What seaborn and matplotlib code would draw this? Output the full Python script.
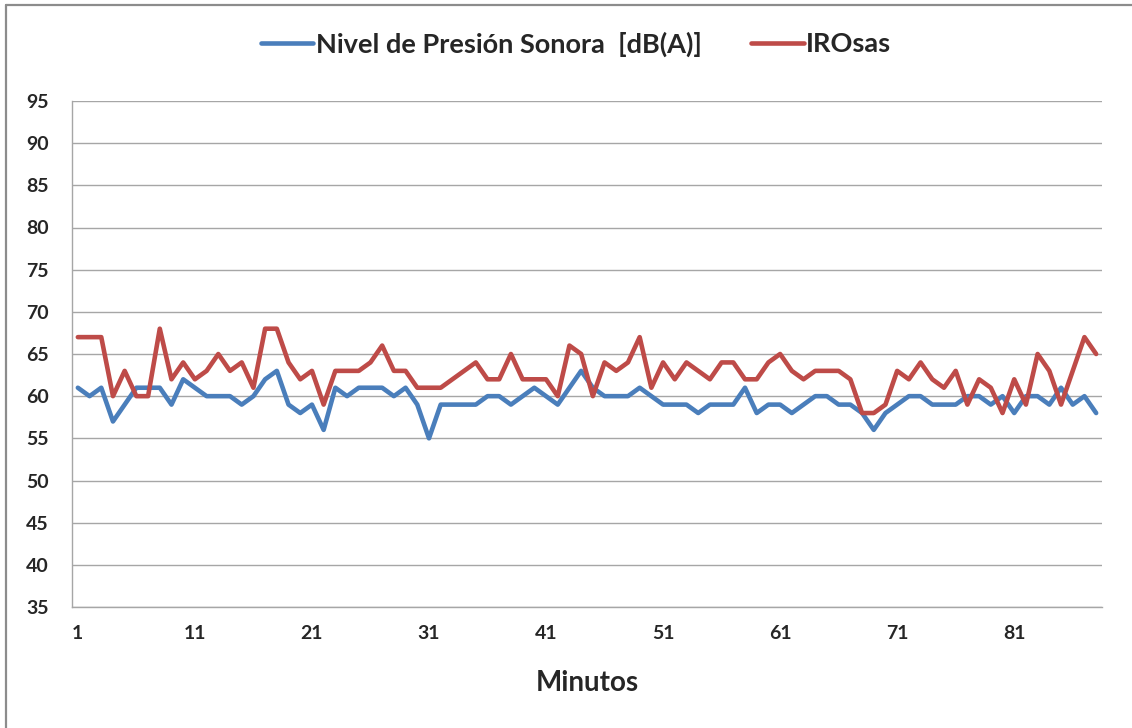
import numpy as np
import pandas as pd
import matplotlib
matplotlib.use("Agg")
import matplotlib.pyplot as plt
from matplotlib.lines import Line2D
import seaborn as sns

# data (one value per minute, 1..88)
nivel = [61, 60, 61, 57, 59, 61, 61, 61, 59, 62,
         61, 60, 60, 60, 59, 60, 62, 63, 59, 58,
         59, 56, 61, 60, 61, 61, 61, 60, 61, 59,
         55, 59, 59, 59, 59, 60, 60, 59, 60, 61,
         60, 59, 61, 63, 61, 60, 60, 60, 61, 60,
         59, 59, 59, 58, 59, 59, 59, 61, 58, 59,
         59, 58, 59, 60, 60, 59, 59, 58, 56, 58,
         59, 60, 60, 59, 59, 59, 60, 60, 59, 60,
         58, 60, 60, 59, 61, 59, 60, 58]
irosas = [67, 67, 67, 60, 63, 60, 60, 68, 62, 64,
          62, 63, 65, 63, 64, 61, 68, 68, 64, 62,
          63, 59, 63, 63, 63, 64, 66, 63, 63, 61,
          61, 61, 62, 63, 64, 62, 62, 65, 62, 62,
          62, 60, 66, 65, 60, 64, 63, 64, 67, 61,
          64, 62, 64, 63, 62, 64, 64, 62, 62, 64,
          65, 63, 62, 63, 63, 63, 62, 58, 58, 59,
          63, 62, 64, 62, 61, 63, 59, 62, 61, 58,
          62, 59, 65, 63, 59, 63, 67, 65]
minutos = list(range(1, len(nivel) + 1))
series_names = ["Nivel de Presión Sonora  [dB(A)]", "IROsas"]
series_colors = ["#4a7ebb", "#be4b48"]
y_ticks = list(range(35, 100, 5))

df = pd.DataFrame({
    "pos": np.arange(len(minutos)).tolist() * 2,
    "valor": nivel + irosas,
    "serie": [series_names[0]] * len(nivel) + [series_names[1]] * len(irosas),
})

sns.set_style("white")
plt.rcParams['font.family'] = ['Lato', 'DejaVu Sans']
plt.rcParams['font.weight'] = 'bold'

W, H = 1132, 728
fig = plt.figure(figsize=(W / 100, H / 100), dpi=100)
ax = fig.add_axes([72 / W, 1 - 607 / H, (1102 - 72) / W, (607 - 101) / H])

sns.lineplot(data=df, x="pos", y="valor", hue="serie", palette=series_colors,
             linewidth=3.3, ax=ax, legend=False, zorder=3)

grid_c = "#a6a6a6"
ax.set_ylim(35, 95)
ax.set_yticks(y_ticks)
ax.set_yticklabels([str(v) for v in y_ticks], fontsize=14, fontweight='bold')
ax.yaxis.grid(True, color=grid_c, linewidth=1)
ax.xaxis.grid(False)

n = len(minutos)
ax.set_xlim(-0.5, n - 0.5)
label_pos = [i for i in range(n) if (minutos[i] - 1) % 10 == 0]
ax.set_xticks(label_pos)
ax.set_xticklabels([str(minutos[i]) for i in label_pos], fontsize=14, fontweight='bold')
ax.set_xticks(np.arange(-0.5, n, 1.0), minor=True)
ax.tick_params(axis='x', which='major', length=0, pad=13)
ax.tick_params(axis='x', which='minor', length=6, width=1, color=grid_c, direction='out')
ax.tick_params(axis='y', length=7, width=1, color=grid_c, direction='out', pad=10)

for s in ['top', 'right']:
    ax.spines[s].set_visible(False)
for s in ['left', 'bottom']:
    ax.spines[s].set_color(grid_c)
    ax.spines[s].set_linewidth(1)

ax.set_xlabel("Minutos", fontsize=20, fontweight='bold', labelpad=20)
ax.set_ylabel("")

handles = [Line2D([0], [0], color=c, lw=3.3) for c in series_colors]
fig.legend(handles, series_names, loc='center', bbox_to_anchor=(576 / W, 1 - 44 / H),
           ncol=2, frameon=False, prop={'size': 19.5, 'weight': 'bold'},
           handlelength=1.95, handletextpad=0.1, columnspacing=1.8)

# chart-area border (cropped on the right and bottom)
border_c = "#8c8c8c"
fig.add_artist(Line2D([6 / W, 6 / W], [0, 1 - 5 / H], color=border_c, lw=1.6,
                      transform=fig.transFigure))
fig.add_artist(Line2D([6 / W, 1], [1 - 5 / H, 1 - 5 / H], color=border_c, lw=1.6,
                      transform=fig.transFigure))

fig.savefig("out.png", dpi=100)
